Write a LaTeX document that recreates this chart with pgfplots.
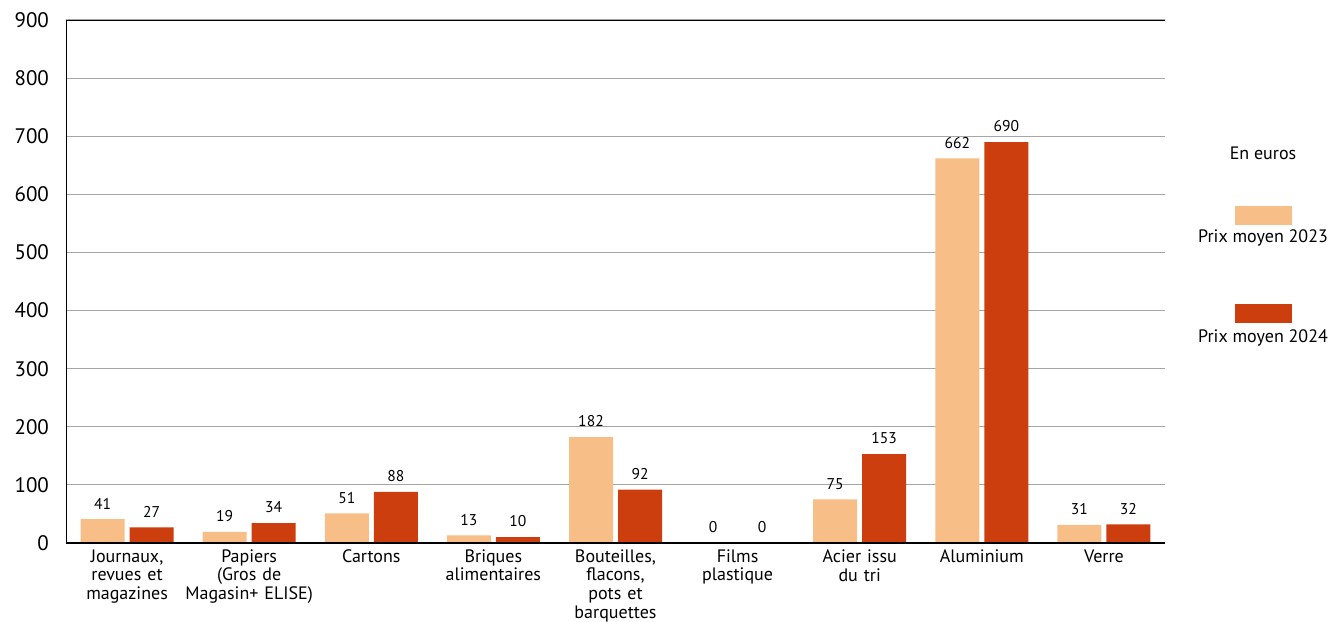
\documentclass[border=0pt]{standalone}
\usepackage{pgfplots}
\pgfplotsset{compat=1.18}
\usepackage{fontspec}
\setmainfont{PT Sans}
\definecolor{c23}{HTML}{F8BE88}
\definecolor{c24}{HTML}{CC3E0E}
\begin{document}
\begin{tikzpicture}
\path[use as bounding box] (0,0) rectangle (666pt,310.5pt);
\begin{axis}[
  at={(33pt,39pt)}, anchor=south west,
  scale only axis, width=549.5pt, height=261.5pt,
  ybar, bar width=22pt,
  xmin=-0.5, xmax=8.5, ymin=0, ymax=900,
  ytick={0,100,...,900},
  xtick={0,...,8},
  xticklabels={{Journaux,\\revues et\\magazines},{Papiers\\(Gros de\\Magasin+ ELISE)},{Cartons},{Briques\\alimentaires},{Bouteilles,\\flacons,\\pots et\\barquettes},{Films\\plastique},{Acier issu\\du tri},{Aluminium},{Verre}},
  xticklabel style={font=\fontsize{9}{9.3}\selectfont, align=center, text width=80pt, anchor=north, yshift=4.5pt},
  yticklabel style={font=\fontsize{10.5}{12}\selectfont, anchor=east, xshift=-5pt},
  /pgf/number format/assume math mode=true,
  xtick style={draw=none}, ytick style={draw=none},
  extra x ticks={0.5,1.5,...,7.5},
  extra x tick labels={},
  extra x tick style={tick style={draw=gray!80, line width=0.6pt}, major tick length=6.5pt, tick align=inside},
  ymajorgrids, grid style={gray!70, line width=0.6pt},
  axis line style={draw=none},
  nodes near coords,
  every node near coord/.append style={font=\fontsize{7.8}{9}\selectfont, black, yshift=1.5pt},
]
\addplot[fill=c23, draw=none, bar shift=-12.25pt] coordinates {(0,41) (1,19) (2,51) (3,13) (4,182) (5,0) (6,75) (7,662) (8,31)};
\addplot[fill=c24, draw=none, bar shift=12.25pt] coordinates {(0,27) (1,34) (2,88) (3,10) (4,92) (5,0) (6,153) (7,690) (8,32)};
\draw[black, line width=0.6pt] (rel axis cs:0,0) -- (rel axis cs:0,1) -- (rel axis cs:1,1);
\draw[black, line width=1pt] (rel axis cs:0,0) -- (rel axis cs:1,0);
\end{axis}
\node[font=\fontsize{9}{11}\selectfont] at (631.5pt,234pt) {En euros};
\fill[c23] (617.5pt,198pt) rectangle (646pt,207.5pt);
\node[font=\fontsize{9}{11}\selectfont] at (631.5pt,191.5pt) {Prix moyen 2023};
\fill[c24] (617.5pt,149pt) rectangle (646pt,158.5pt);
\node[font=\fontsize{9}{11}\selectfont] at (631.5pt,141.5pt) {Prix moyen 2024};
\end{tikzpicture}
\end{document}
